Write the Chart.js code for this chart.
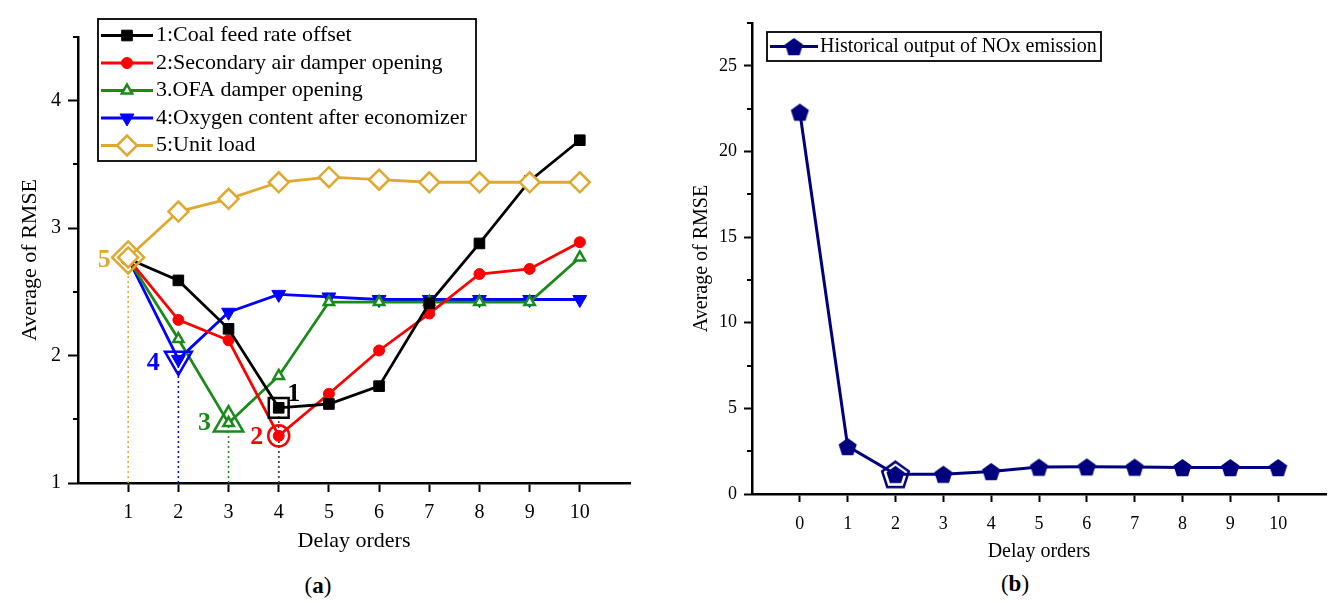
<!DOCTYPE html>
<html>
<head>
<meta charset="utf-8">
<script src="https://cdn.jsdelivr.net/npm/chart.js@4.4.0/dist/chart.umd.min.js"></script>
<style>
  body { margin: 0; background: #fff; width: 1341px; height: 603px; position: relative; overflow: hidden; font-family: "Liberation Serif", "Times New Roman", serif; }
  #boxA { position: absolute; left: 0; top: 0; width: 660px; height: 560px; }
  #boxB { position: absolute; left: 680px; top: 0; width: 661px; height: 570px; }
  .cap { position: absolute; font-size: 23px; color: #000; transform: translate(-50%, -50%); white-space: nowrap; }
</style>
</head>
<body>
<div id="boxA"><canvas id="chartA"></canvas></div>
<div id="boxB"><canvas id="chartB"></canvas></div>
<div class="cap" style="left:318px; top:586px">(<b>a</b>)</div>
<div class="cap" style="left:1015px; top:584px">(<b>b</b>)</div>

<script>
// ---- data, panel (a) ----
const delaysA = [1, 2, 3, 4, 5, 6, 7, 8, 9, 10];
const coalFeed     = [2.76, 2.59, 2.21, 1.59, 1.62, 1.76, 2.41, 2.88, 3.37, 3.69];
const secondaryAir = [2.76, 2.28, 2.12, 1.37, 1.70, 2.04, 2.33, 2.64, 2.68, 2.89];
const ofaDamper    = [2.76, 2.13, 1.47, 1.84, 2.42, 2.42, 2.42, 2.42, 2.42, 2.77];
const oxygen       = [2.76, 1.97, 2.34, 2.48, 2.46, 2.44, 2.44, 2.44, 2.44, 2.44];
const unitLoad     = [2.77, 3.13, 3.23, 3.36, 3.40, 3.38, 3.36, 3.36, 3.36, 3.36];
const namesA = ["1:Coal feed rate offset", "2:Secondary air damper opening", "3.OFA damper opening",
                "4:Oxygen content after economizer", "5:Unit load"];
const tagsA = ["1", "2", "3", "4", "5"];
const xTicksA = [1, 2, 3, 4, 5, 6, 7, 8, 9, 10];
const yTicksA = [1, 2, 3, 4];
const yMinorA = [1.5, 2.5, 3.5, 4.5];

// ---- data, panel (b) ----
const delaysB = [0, 1, 2, 3, 4, 5, 6, 7, 8, 9, 10];
const noxHistory = [22.3, 2.78, 1.15, 1.16, 1.32, 1.57, 1.59, 1.57, 1.55, 1.55, 1.55];
const nameB = "Historical output of NOx emission";
const xTicksB = [0, 1, 2, 3, 4, 5, 6, 7, 8, 9, 10];
const yTicksB = [0, 5, 10, 15, 20, 25];
const yMinorB = [2.5, 7.5, 12.5, 17.5, 22.5, 27.5];

const FONT = "Liberation Serif";
const NAVY = "#00007f";

function toPoints(xs, ys) {
    return xs.map((x, i) => ({ x: x, y: ys[i] }));
}
function argMin(arr) {
    let k = 0;
    arr.forEach((v, i) => { if (v < arr[k]) k = i; });
    return k;
}

function pentagon(r, fill, stroke, lw) {
    const size = Math.ceil(2 * r + lw + 4);
    const c = document.createElement("canvas");
    c.width = c.height = size;
    const g = c.getContext("2d");
    const cx = size / 2, cy = size / 2 + r * 0.1;
    g.beginPath();
    for (let k = 0; k < 5; k++) {
        const a = -Math.PI / 2 + k * 2 * Math.PI / 5;
        g.lineTo(cx + r * Math.cos(a), cy + r * Math.sin(a));
    }
    g.closePath();
    if (fill) { g.fillStyle = fill; g.fill(); }
    if (stroke) { g.strokeStyle = stroke; g.lineWidth = lw; g.stroke(); }
    return c;
}

// boxed legend with line + marker samples
const boxLegend = {
    id: "boxLegend",
    afterDraw(chart, args, opts) {
        const ctx = chart.ctx;
        ctx.save();
        ctx.fillStyle = "#fff";
        ctx.fillRect(opts.x, opts.y, opts.w, opts.h);
        ctx.lineWidth = 1.8;
        ctx.strokeStyle = "#000";
        ctx.strokeRect(opts.x, opts.y, opts.w, opts.h);
        const items = chart.data.datasets.filter(d => d.inLegend);
        items.forEach((ds, i) => {
            const y = opts.y + opts.firstRow + i * opts.rowH;
            const x0 = opts.x + 3;
            ctx.setLineDash([]);
            ctx.strokeStyle = ds.borderColor;
            ctx.lineWidth = ds.borderWidth;
            ctx.beginPath();
            ctx.moveTo(x0, y);
            ctx.lineTo(x0 + opts.lineLen, y);
            ctx.stroke();
            ctx.fillStyle = ds.pointBackgroundColor;
            ctx.strokeStyle = ds.pointBorderColor;
            ctx.lineWidth = ds.pointBorderWidth;
            Chart.helpers.drawPoint(ctx, {
                pointStyle: ds.pointStyle,
                rotation: ds.pointRotation || 0,
                radius: ds.pointRadius,
                borderWidth: ds.pointBorderWidth
            }, x0 + opts.lineLen / 2, y);
            ctx.fillStyle = "#000";
            ctx.font = opts.font;
            ctx.textAlign = "left";
            ctx.textBaseline = "middle";
            ctx.fillText(ds.label, opts.x + opts.textX, y);
        });
        ctx.restore();
    }
};

// short minor ticks on the y axis
const minorTicks = {
    id: "minorTicks",
    afterDraw(chart, args, opts) {
        const s = chart.scales.y;
        const ctx = chart.ctx;
        ctx.save();
        ctx.strokeStyle = "#000";
        ctx.lineWidth = 2;
        opts.values.forEach(v => {
            const py = Math.round(s.getPixelForValue(v));
            ctx.beginPath();
            ctx.moveTo(s.right - opts.length, py);
            ctx.lineTo(s.right, py);
            ctx.stroke();
        });
        ctx.restore();
    }
};

// number tags next to highlighted minima
const pointTags = {
    id: "pointTags",
    afterDatasetsDraw(chart) {
        const ctx = chart.ctx;
        ctx.save();
        chart.data.datasets.forEach((ds, i) => {
            if (!ds.tag) return;
            const pt = chart.getDatasetMeta(i).data[0];
            ctx.fillStyle = ds.borderColor;
            ctx.font = "bold 26px " + FONT;
            ctx.textAlign = "center";
            ctx.textBaseline = "middle";
            ctx.fillText(ds.tag, pt.x + ds.tagOffset[0], pt.y + ds.tagOffset[1]);
        });
        ctx.restore();
    }
};

// ---------- panel (a) ----------
const styleA = [
    { color: "#000000", pointStyle: "rect", radius: 7.5, fill: "#000000", big: 14, tagOffset: [15, -14], guide: "#444", order: 2 },
    { color: "#ff0000", pointStyle: "circle", radius: 5.5, fill: "#ff0000", big: 10.5, tagOffset: [-22, 1], guide: "#b00000", order: 2 },
    { color: "#1a8a1a", pointStyle: "triangle", radius: 6, fill: "#ffffff", big: 17, tagOffset: [-24, 0], guide: "#1a8a1a", order: 2 },
    { color: "#0000ff", pointStyle: "triangle", rotation: 180, radius: 8, fill: "#0000ff", big: 15.5, tagOffset: [-25, 4], guide: "#0000ff", order: 2 },
    { color: "#e0a82e", pointStyle: "rectRot", radius: 10, fill: "#ffffff", big: 16, tagOffset: [-24, 3], guide: "#e0a82e", order: 1 }
];
const seriesA = [coalFeed, secondaryAir, ofaDamper, oxygen, unitLoad];

const datasetsA = [];
seriesA.forEach((ys, i) => {
    const st = styleA[i];
    datasetsA.push({
        label: namesA[i],
        inLegend: true,
        data: toPoints(delaysA, ys),
        borderColor: st.color,
        borderWidth: 2.8,
        pointStyle: st.pointStyle,
        pointRotation: st.rotation || 0,
        pointRadius: st.radius,
        pointBackgroundColor: st.fill,
        pointBorderColor: st.color,
        pointBorderWidth: st.fill === "#ffffff" ? 2.5 : 1,
        order: st.order
    });
});
seriesA.forEach((ys, i) => {
    const st = styleA[i];
    const k = argMin(ys);
    // enlarged hollow marker at the minimum
    datasetsA.push({
        label: "min " + tagsA[i],
        tag: tagsA[i],
        tagOffset: st.tagOffset,
        data: [{ x: delaysA[k], y: ys[k] }],
        showLine: false,
        borderColor: st.color,
        pointStyle: st.pointStyle,
        pointRotation: st.rotation || 0,
        pointRadius: st.big,
        pointBackgroundColor: "rgba(0,0,0,0)",
        pointBorderColor: st.color,
        pointBorderWidth: 2.5,
        order: 0
    });
    // dotted drop line to the axis
    datasetsA.push({
        label: "drop " + tagsA[i],
        data: [{ x: delaysA[k], y: yTicksA[0] }, { x: delaysA[k], y: ys[k] }],
        borderColor: st.guide,
        borderWidth: 1.5,
        borderDash: [2, 3],
        pointRadius: 0,
        order: 10
    });
});

new Chart(document.getElementById("chartA"), {
    type: "line",
    data: { datasets: datasetsA },
    plugins: [minorTicks, pointTags, boxLegend],
    options: {
        responsive: true,
        maintainAspectRatio: false,
        animation: false,
        layout: { padding: { top: 37, right: 30, left: 0, bottom: 0 } },
        elements: { line: { tension: 0 } },
        plugins: {
            legend: { display: false },
            tooltip: { enabled: false },
            minorTicks: { values: yMinorA, length: 5 },
            boxLegend: { x: 98, y: 19, w: 378, h: 142, firstRow: 16.5, rowH: 27.5, lineLen: 52, textX: 58, font: "22px " + FONT }
        },
        scales: {
            x: {
                type: "linear", min: 0, max: 11,
                afterBuildTicks: s => { s.ticks = xTicksA.map(v => ({ value: v })); },
                afterFit: s => { s.height = 77; },
                grid: { drawOnChartArea: false, drawTicks: true, tickLength: 9, tickWidth: 2, tickColor: "#000" },
                border: { color: "#000", width: 2.5 },
                ticks: { color: "#000", font: { family: FONT, size: 20 }, padding: 9, maxRotation: 0, autoSkip: false },
                title: { display: true, text: "Delay orders", color: "#000", font: { family: FONT, size: 22 }, padding: { top: 0, bottom: 6 } }
            },
            y: {
                type: "linear", min: 1, max: 4.5,
                afterBuildTicks: s => { s.ticks = yTicksA.map(v => ({ value: v })); },
                afterFit: s => { s.width = 78; },
                grid: { drawOnChartArea: false, drawTicks: true, tickLength: 10, tickWidth: 2, tickColor: "#000" },
                border: { color: "#000", width: 2.5 },
                ticks: { color: "#000", font: { family: FONT, size: 20 }, padding: 7 },
                title: { display: true, text: "Average of RMSE", color: "#000", font: { family: FONT, size: 22 }, padding: { top: 17, bottom: 0 } }
            }
        }
    }
});

// ---------- panel (b) ----------
const pentaMark = pentagon(9.5, NAVY, null, 0);
const pentaBig = pentagon(14, null, NAVY, 2.5);
const kB = argMin(noxHistory);

new Chart(document.getElementById("chartB"), {
    type: "line",
    data: {
        datasets: [
            {
                label: nameB,
                inLegend: true,
                data: toPoints(delaysB, noxHistory),
                borderColor: NAVY,
                borderWidth: 3,
                pointStyle: pentaMark,
                pointRadius: 9.5,
                pointBackgroundColor: NAVY,
                pointBorderColor: NAVY,
                pointBorderWidth: 1,
                order: 1
            },
            {
                label: "min",
                data: [{ x: delaysB[kB], y: noxHistory[kB] }],
                showLine: false,
                borderColor: NAVY,
                backgroundColor: NAVY,
                pointStyle: pentaBig,
                pointRadius: 14,
                pointBackgroundColor: NAVY,
                pointBorderColor: NAVY,
                order: 0
            }
        ]
    },
    plugins: [minorTicks, boxLegend],
    options: {
        responsive: true,
        maintainAspectRatio: false,
        animation: false,
        layout: { padding: { top: 23, right: 3, left: 0, bottom: 0 } },
        elements: { line: { tension: 0 } },
        plugins: {
            legend: { display: false },
            tooltip: { enabled: false },
            minorTicks: { values: yMinorB, length: 5 },
            boxLegend: { x: 87, y: 32, w: 334, h: 29, firstRow: 14.5, rowH: 0, lineLen: 48, textX: 53, font: "20px " + FONT }
        },
        scales: {
            x: {
                type: "linear", min: -1, max: 11,
                afterBuildTicks: s => { s.ticks = xTicksB.map(v => ({ value: v })); },
                afterFit: s => { s.height = 76; },
                grid: { drawOnChartArea: false, drawTicks: true, tickLength: 8, tickWidth: 2, tickColor: "#000" },
                border: { color: "#000", width: 2.5 },
                ticks: { color: "#000", font: { family: FONT, size: 18 }, padding: 11, maxRotation: 0, autoSkip: false },
                title: { display: true, text: "Delay orders", color: "#000", font: { family: FONT, size: 20 }, padding: { top: 0, bottom: 6 } }
            },
            y: {
                type: "linear", min: 0, max: 27.5,
                afterBuildTicks: s => { s.ticks = yTicksB.map(v => ({ value: v })); },
                afterFit: s => { s.width = 72; },
                grid: { drawOnChartArea: false, drawTicks: true, tickLength: 8, tickWidth: 2, tickColor: "#000" },
                border: { color: "#000", width: 2.5 },
                ticks: { color: "#000", font: { family: FONT, size: 18 }, padding: 7 },
                title: { display: true, text: "Average of RMSE", color: "#000", font: { family: FONT, size: 20 }, padding: { top: 10, bottom: 0 } }
            }
        }
    }
});
</script>
</body>
</html>
